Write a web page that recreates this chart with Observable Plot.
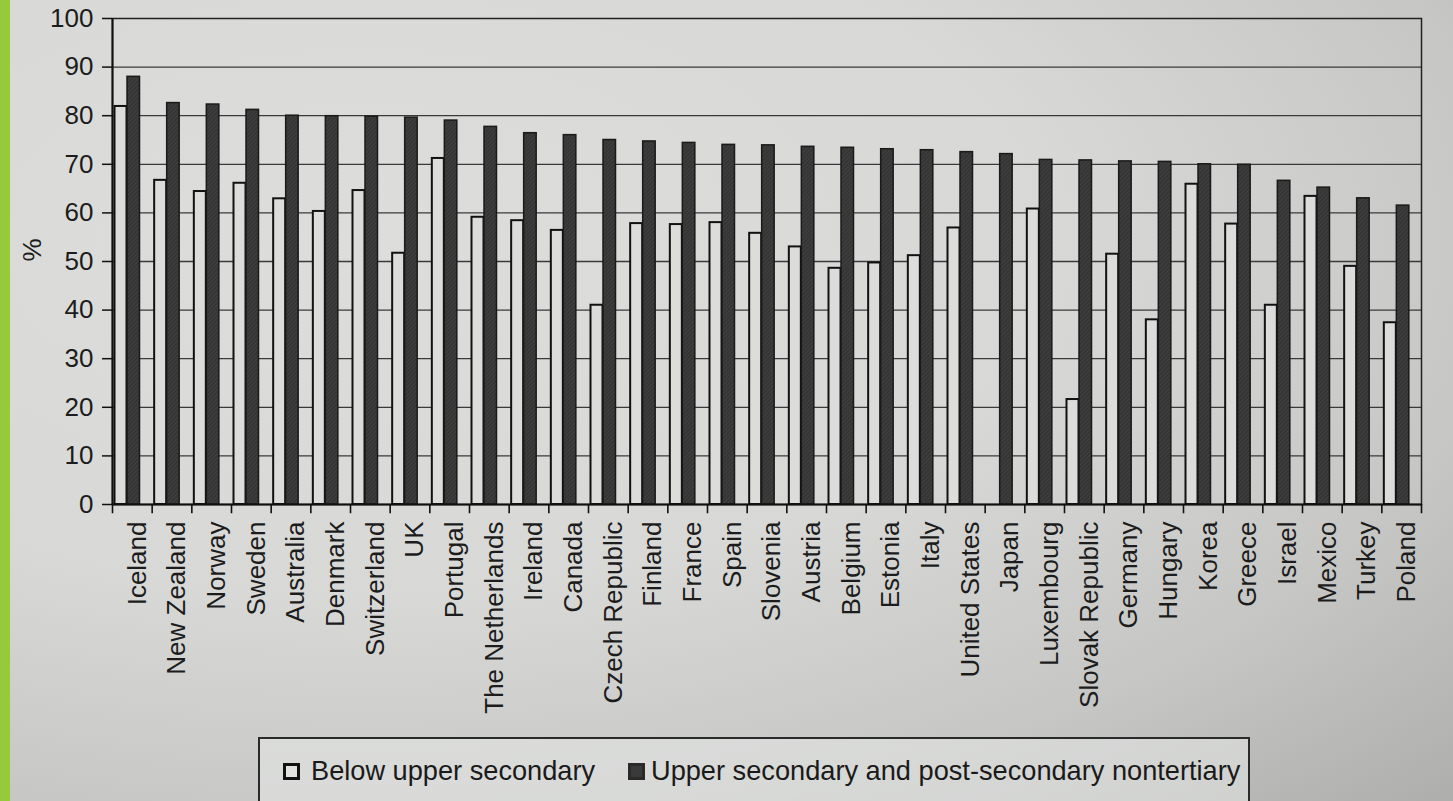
<!DOCTYPE html>
<html>
<head>
<meta charset="utf-8">
<script src="https://cdn.jsdelivr.net/npm/d3@7"></script>
<script src="https://cdn.jsdelivr.net/npm/@observablehq/plot@0.6"></script>
<style>
  html, body { margin: 0; padding: 0; }
  body {
    width: 1453px; height: 801px; overflow: hidden; position: relative;
    background: radial-gradient(ellipse at 25% 30%, #dddedc 0%, #d8d9d7 45%, #c6c7c5 75%, #aeafad 100%);
    font-family: "Liberation Sans", Arial, sans-serif;
  }
  #strip { position: absolute; left: 0; top: 0; width: 10px; height: 801px; background: #97c93c; }
  #chart { position: absolute; left: 0; top: 0; }
  #legend {
    position: absolute; left: 258px; top: 737px; width: 988px; height: 90px;
    border: 2px solid #2a2a2a; background: rgba(230,231,229,0.55);
    font-size: 27.2px; color: #1a1a1a;
  }
  #legend .item { position: absolute; top: 16px; display: flex; align-items: center; white-space: nowrap; }
  #legend .sw { width: 11px; height: 11px; border: 3px solid #111; margin-right: 11px; }
</style>
</head>
<body>
<div id="strip"></div>
<div id="chart"></div>
<div id="legend">
  <div class="item" style="left:23px"><span class="sw" style="background:#e2e3e1"></span><span id="l1"></span></div>
  <div class="item" style="left:368px"><span class="sw" style="background:#3a3a3a;border-color:#2a2a2a;margin-right:6px"></span><span id="l2"></span></div>
</div>
<script>
const countries = ["Iceland","New Zealand","Norway","Sweden","Australia","Denmark","Switzerland","UK","Portugal","The Netherlands","Ireland","Canada","Czech Republic","Finland","France","Spain","Slovenia","Austria","Belgium","Estonia","Italy","United States","Japan","Luxembourg","Slovak Republic","Germany","Hungary","Korea","Greece","Israel","Mexico","Turkey","Poland"];
const belowUpperSecondary = [81.9,66.7,64.4,66.1,62.9,60.3,64.6,51.7,71.2,59.1,58.4,56.4,41.0,57.8,57.6,58.0,55.8,53.0,48.6,49.7,51.2,56.9,null,60.8,21.6,51.5,38.0,65.9,57.7,41.0,63.4,49.0,37.4];
const upperSecondary = [88.0,82.6,82.3,81.2,80.0,79.9,79.8,79.6,79.0,77.7,76.4,76.0,75.0,74.7,74.4,74.0,73.9,73.6,73.4,73.1,72.9,72.5,72.1,70.9,70.8,70.6,70.5,70.0,69.9,66.6,65.2,63.0,61.5];
const seriesNames = ["Below upper secondary", "Upper secondary and post-secondary nontertiary"];
const yTicks = [0,10,20,30,40,50,60,70,80,90,100];
const gridTicks = [10,20,30,40,50,60,70,80,90];

document.getElementById("l1").textContent = seriesNames[0];
document.getElementById("l2").textContent = seriesNames[1];

const data = countries.map((c, i) => ({country: c, below: belowUpperSecondary[i], upper: upperSecondary[i]}));

const W = 1453, H = 730, mL = 112, mR = 32, mT = 18, mB = 226;
const step = (W - mL - mR) / countries.length;

const chart = Plot.plot({
  width: W, height: H,
  marginLeft: mL, marginRight: mR, marginTop: mT, marginBottom: mB,
  style: {background: "transparent", fontFamily: "'Liberation Sans', Arial, sans-serif", color: "#1c1c1c"},
  x: {domain: countries, padding: 0, round: false, axis: null},
  y: {domain: [0, 100], axis: null},
  marks: [
    Plot.ruleY(gridTicks, {stroke: "#3a3a3a", strokeWidth: 1.3}),
    Plot.barY(data.filter(d => d.below != null), {
      x: "country", y: "below",
      insetLeft: 2.5, insetRight: step - 14.5,
      fill: "#dcdddb", stroke: "#111", strokeWidth: 2
    }),
    Plot.barY(data, {
      x: "country", y: "upper",
      insetLeft: 15, insetRight: step - 27.5,
      fill: "url(#hatch)", stroke: "#1a1a1a", strokeWidth: 1.5
    }),
    Plot.frame({stroke: "#222", strokeWidth: 1.5}),
    Plot.ruleX([countries[0]], {x: d => d, dx: -step / 2, y1: 0, y2: 100, stroke: "#111", strokeWidth: 2}),
    Plot.ruleY([0], {stroke: "#111", strokeWidth: 2}),
    Plot.ruleX(countries, {x: d => d, y1: 0, y2: -1.9, dx: -step / 2, stroke: "#111", strokeWidth: 1.6}),
    Plot.ruleX([countries[countries.length - 1]], {x: d => d, y1: 0, y2: -1.9, dx: step / 2, stroke: "#111", strokeWidth: 1.6}),
    Plot.axisY(yTicks, {tickSize: 10, tickPadding: 9, fontSize: 26, label: null, stroke: "#111", strokeWidth: 1.5}),
    Plot.axisX({tickSize: 0, tickPadding: 17, tickRotate: -90, fontSize: 26, label: null, dx: 5}),
    Plot.text(["%"], {frameAnchor: "left", dx: -80, rotate: -90, fontSize: 26, fill: "#1c1c1c"})
  ]
});
// hatch pattern for the dark series (as in the printed figure)
const ns = "http://www.w3.org/2000/svg";
const defs = document.createElementNS(ns, "defs");
defs.innerHTML = '<pattern id="hatch" patternUnits="userSpaceOnUse" width="3" height="3" patternTransform="rotate(45)">' +
  '<rect width="3" height="3" fill="#353535"></rect><line x1="0" y1="0" x2="0" y2="3" stroke="#4a4a4a" stroke-width="1"></line></pattern>';
chart.insertBefore(defs, chart.firstChild);
document.getElementById("chart").appendChild(chart);
</script>
</body>
</html>
